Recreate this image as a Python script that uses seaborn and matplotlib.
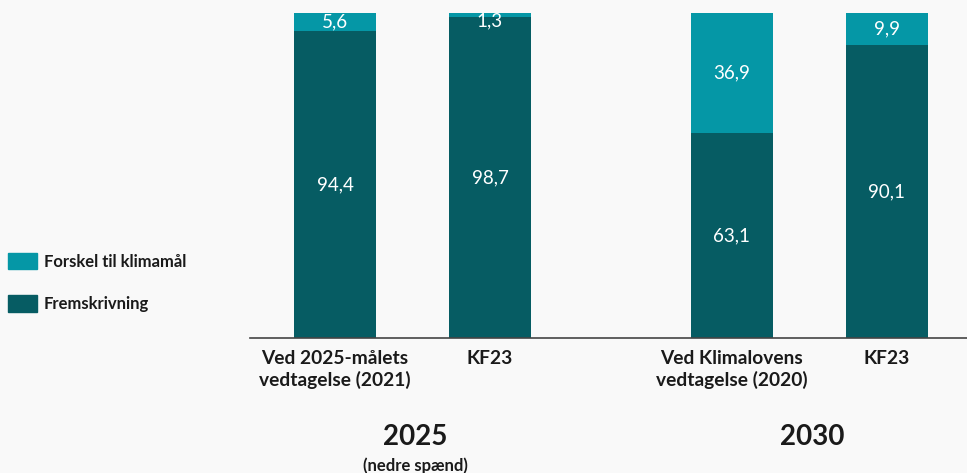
import numpy as np
import pandas as pd
import matplotlib.pyplot as plt
import seaborn as sns
from matplotlib.patches import Patch

sns.set_style("white")
plt.rcParams["font.family"] = ["Lato", "DejaVu Sans"]

# ── 데이터 ──
positions = [0.0, 1.0, 2.56, 3.56]
kategorier = ["Ved 2025-målets\nvedtagelse (2021)", "KF23",
              "Ved Klimalovens\nvedtagelse (2020)", "KF23"]
fremskrivning = [94.4, 98.7, 63.1, 90.1]
forskel = [5.6, 1.3, 36.9, 9.9]
grupper = ["2025", "2030"]

DARK = "#065c63"
LIGHT = "#0597a6"
BG = "#f9f9f9"
TXT = "#1a1a1a"

df = pd.DataFrame({"x": positions, "frem": fremskrivning, "forskel": forskel})
df["total"] = df["frem"] + df["forskel"]

fig = plt.figure(figsize=(9.67, 4.73), dpi=100, facecolor=BG)
ax = fig.add_axes([250/967, (473-338)/473, (967-250)/967, 338/473])
ax.set_facecolor(BG)

sns.barplot(data=df, x="x", y="total", native_scale=True, width=0.53,
            color=LIGHT, saturation=1, linewidth=0, ax=ax)
sns.barplot(data=df, x="x", y="frem", native_scale=True, width=0.53,
            color=DARK, saturation=1, linewidth=0, ax=ax)

ax.set_xlim(-0.548, 4.077)
ax.set_ylim(0, 104)

# værdier i søjlerne
for x, f, d in zip(positions, fremskrivning, forskel):
    ax.text(x, f / 2, f"{f:.1f}".replace(".", ","), ha="center", va="center",
            color="white", fontsize=13.5)
    yt = min(f + d / 2, 97.5)
    ax.text(x, yt, f"{d:.1f}".replace(".", ","), ha="center", va="center",
            color="white", fontsize=13.5)

ax.set_xticks(positions)
ax.set_xticklabels(kategorier, fontsize=13.8, fontweight="bold", color=TXT,
                   linespacing=1.2)
ax.tick_params(axis="x", length=0, pad=9)
ax.set_yticks([])
ax.set_xlabel("")
ax.set_ylabel("")
for s in ["top", "right", "left"]:
    ax.spines[s].set_visible(False)
ax.spines["bottom"].set_color("#444444")
ax.spines["bottom"].set_linewidth(1.2)

# gruppenavne
for i, g in enumerate(grupper):
    xm = (positions[2*i] + positions[2*i+1]) / 2
    ax.text(xm + 0.02, -30.5, g, ha="center", va="center", fontsize=20,
            fontweight="bold", color=TXT, clip_on=False)
ax.text((positions[0] + positions[1]) / 2 + 0.02, -39.2, "(nedre spænd)", ha="center",
        va="center", fontsize=12, fontweight="bold", color=TXT, clip_on=False)

handles = [Patch(color=LIGHT, label="Forskel til klimamål"),
           Patch(color=DARK, label="Fremskrivning")]
leg = fig.legend(handles=handles, loc="center left", bbox_to_anchor=(8/967, 1 - 282.5/473),
                 frameon=False, prop={"size": 12, "weight": "bold"},
                 handlelength=1.75, handleheight=1.15, handletextpad=0.4,
                 labelspacing=1.55, borderpad=0, borderaxespad=0)
for t in leg.get_texts():
    t.set_color(TXT)

fig.savefig("out.png", dpi=100, facecolor=BG)
